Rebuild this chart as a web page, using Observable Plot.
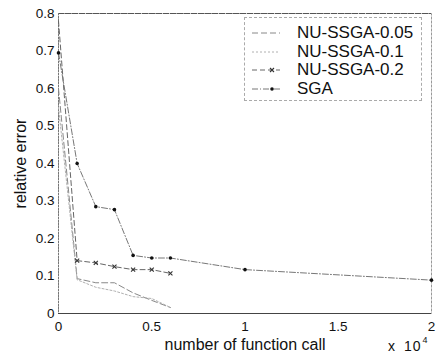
<!DOCTYPE html>
<html>
<head>
<meta charset="utf-8">
<script src="https://cdn.jsdelivr.net/npm/d3@7"></script>
<script src="https://cdn.jsdelivr.net/npm/@observablehq/plot@0.6"></script>
<style>
  html, body { margin: 0; padding: 0; background: #fff; }
  #wrap { position: relative; width: 437px; height: 354px; font-family: "Liberation Sans", Arial, sans-serif; }
  #legend { position: absolute; left: 244px; top: 17px; width: 178px; height: 84px; border: 1px dashed #aaa; background: #fff; box-sizing: border-box; }
  .row { position: absolute; left: 0; height: 18px; display: flex; align-items: center; }
  .row span { font-size: 17px; color: #111; margin-left: 14px; }
  #xexp { position: absolute; left: 388px; top: 337px; font-size: 14px; color: #111; white-space: nowrap; word-spacing: 3px; letter-spacing: 1px; }
  #xexp sup { font-size: 9px; position: relative; top: -2px; margin-left: 1px; }
</style>
</head>
<body>
<div id="wrap"></div>
<script>
const seriesNames = ["NU-SSGA-0.05", "NU-SSGA-0.1", "NU-SSGA-0.2", "SGA"];
const nuCalls = [0, 1000, 2000, 3000, 4000, 5000, 6000];
const nu005 = [0.60, 0.093, 0.082, 0.082, 0.055, 0.035, 0.016];
const nu01 = [0.55, 0.090, 0.070, 0.060, 0.045, 0.040, 0.016];
const nu02 = [0.78, 0.141, 0.135, 0.125, 0.117, 0.117, 0.107];
const sgaCalls = [0, 1000, 2000, 3000, 4000, 5000, 6000, 10000, 20000];
const sga = [0.695, 0.40, 0.285, 0.277, 0.155, 0.148, 0.148, 0.117, 0.089];
const xTicks = [0, 5000, 10000, 15000, 20000];
const xTickLabels = ["0", "0.5", "1", "1.5", "2"];
const yTicks = [0, 0.1, 0.2, 0.3, 0.4, 0.5, 0.6, 0.7, 0.8];

const rows = [];
nuCalls.forEach((c, i) => {
  rows.push({s: seriesNames[0], x: c, y: nu005[i]});
  rows.push({s: seriesNames[1], x: c, y: nu01[i]});
  rows.push({s: seriesNames[2], x: c, y: nu02[i]});
});
sgaCalls.forEach((c, i) => rows.push({s: seriesNames[3], x: c, y: sga[i]}));
const of = name => rows.filter(d => d.s === name);

const styles = {
  "NU-SSGA-0.05": {stroke: "#888", dash: "6,3"},
  "NU-SSGA-0.1": {stroke: "#b0b0b0", dash: "2,2"},
  "NU-SSGA-0.2": {stroke: "#666", dash: "5,3"},
  "SGA": {stroke: "#777", dash: "6,2,1,2"}
};

const chart = Plot.plot({
  width: 437,
  height: 354,
  marginLeft: 58,
  marginRight: 6,
  marginTop: 13,
  marginBottom: 41,
  style: {fontFamily: "Liberation Sans, Arial, sans-serif", fontSize: "13.5px", color: "#111", background: "#fff"},
  x: {domain: [0, 20000], ticks: xTicks, tickFormat: d => xTickLabels[xTicks.indexOf(d)], tickSize: 0, tickPadding: 8,
      label: "number of function call", labelAnchor: "center", labelArrow: "none", labelOffset: 36},
  y: {domain: [0, 0.8], ticks: yTicks, tickFormat: d => d === 0 ? "0" : d3.format(".1f")(d), tickSize: 0, tickPadding: 4,
      label: "relative error", labelAnchor: "center", labelArrow: "none", labelOffset: 44},
  marks: [
    Plot.frame({stroke: "#999", strokeDasharray: "3,1"}),
    Plot.ruleY([0.8], {stroke: "#555", strokeDasharray: "6,1"}),
    Plot.ruleY([0], {stroke: "#444"}),
    Plot.ruleX([0], {stroke: "#777", strokeDasharray: "2,1"}),
    ...seriesNames.map(n => Plot.line(of(n), {x: "x", y: "y", stroke: styles[n].stroke, strokeDasharray: styles[n].dash, strokeWidth: 1})),
    Plot.dot(of("NU-SSGA-0.2").slice(1), {x: "x", y: "y", symbol: "times", r: 2, stroke: "#333", strokeWidth: 1.1}),
    Plot.dot(of("SGA"), {x: "x", y: "y", r: 1.8, fill: "#111"})
  ]
});
chart.querySelectorAll('[aria-label="x-axis label"] text, [aria-label="y-axis label"] text').forEach(t => t.style.fontSize = "16px");
document.getElementById("wrap").appendChild(chart);

const legend = document.createElement("div");
legend.id = "legend";
seriesNames.forEach((n, i) => {
  const row = document.createElement("div");
  row.className = "row";
  row.style.top = (6 + i * 18.5) + "px";
  const st = styles[n];
  let marker = "";
  if (n === "NU-SSGA-0.2") marker = '<path d="M25,-2 l4,4 M29,-2 l-4,4" stroke="#333" stroke-width="1.1"/>';
  if (n === "SGA") marker = '<circle cx="27" cy="0" r="1.8" fill="#111"/>';
  row.innerHTML = `<svg width="38" height="18"><g transform="translate(0,9)"><line x1="7" x2="35" y1="0" y2="0" stroke="${st.stroke}" stroke-dasharray="${st.dash}"/>${marker}</g></svg><span>${n}</span>`;
  legend.appendChild(row);
});
document.getElementById("wrap").appendChild(legend);

const exp = document.createElement("div");
exp.id = "xexp";
exp.innerHTML = "x 10<sup>4</sup>";
document.getElementById("wrap").appendChild(exp);
</script>
</body>
</html>
